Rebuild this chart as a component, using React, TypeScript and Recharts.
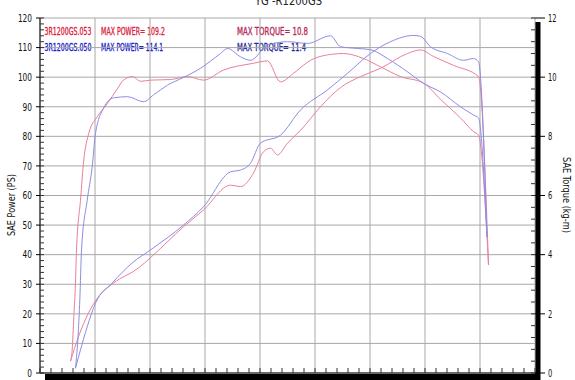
import React from 'react';
import { LineChart, Line, XAxis, YAxis, CartesianGrid } from 'recharts';

const FONT = "'DejaVu Sans Condensed', 'DejaVu Sans', sans-serif";

// axis ticks (major ticks carry labels / grid lines, minor ticks are short marks)
const rpmTicks = [0, 1000, 2000, 3000, 4000, 5000, 6000, 7000, 8000, 9000];
const rpmMinorTicks = Array.from({ length: 46 }, (_, i) => i * 200);
const powerTicks = [0, 10, 20, 30, 40, 50, 60, 70, 80, 90, 100, 110, 120];
const powerMinorTicks = Array.from({ length: 61 }, (_, i) => i * 2);
const torqueTicks = [0, 2, 4, 6, 8, 10, 12];
const torqueMinorTicks = Array.from({ length: 31 }, (_, i) => Math.round(i * 4) / 10);

// run 3R1200GS.053 (red)
const redPowerRpm = [555, 700, 882, 1064, 1336, 1791, 2009, 2609, 2973, 3464, 3645, 3882, 4064, 4191, 4318, 4500, 4736, 5100, 5464, 5827, 6191, 6682, 6918, 7155, 7518, 7973, 8155];
const redPowerPs = [4.0, 12.3, 20.3, 25.8, 30.4, 35.5, 39.0, 49.4, 55.1, 63.5, 63.0, 67.6, 74.8, 76.0, 73.7, 77.7, 82.0, 90.0, 96.5, 100.2, 103.0, 108.0, 109.2, 107.0, 104.0, 100.2, 36.5];
const redTorqueRpm = [555, 585, 615, 645, 664, 736, 796, 887, 1040, 1222, 1404, 1518, 1682, 1827, 2009, 2373, 2682, 2973, 3336, 3882, 4136, 4373, 4609, 4918, 5336, 5518, 5882, 6191, 6555, 6973, 7282, 7645, 7882, 7973, 8155];
const redTorqueKgm = [0.40, 0.78, 1.90, 3.04, 4.16, 5.84, 7.20, 8.10, 8.66, 9.10, 9.60, 9.90, 10.02, 9.86, 9.90, 9.92, 10.02, 9.90, 10.24, 10.47, 10.55, 9.84, 10.13, 10.57, 10.78, 10.80, 10.63, 10.35, 10.02, 9.80, 9.25, 8.62, 8.16, 8.04, 3.65];

// run 3R1200GS.050 (blue)
const bluePowerRpm = [645, 736, 858, 1009, 1313, 1676, 2009, 2609, 2973, 3464, 3645, 3827, 4009, 4373, 4736, 5227, 5591, 6009, 6373, 6791, 6918, 7100, 7409, 7700, 7882, 7973, 8127];
const bluePowerPs = [1.6, 7.8, 15.6, 23.6, 30.4, 37.2, 41.6, 50.0, 56.2, 68.0, 68.6, 70.9, 77.7, 80.4, 88.9, 95.7, 101.3, 108.0, 112.0, 114.1, 113.8, 110.3, 108.0, 105.7, 106.3, 105.2, 46.0];
const blueTorqueRpm = [645, 695, 724, 755, 858, 949, 1009, 1155, 1336, 1591, 1882, 2064, 2318, 2609, 2918, 3282, 3409, 3645, 3827, 4136, 4500, 4864, 5282, 5464, 5773, 6009, 6318, 6682, 6973, 7282, 7645, 7882, 7973, 8127];
const blueTorqueKgm = [0.16, 1.35, 2.47, 4.16, 5.84, 6.97, 8.10, 8.95, 9.30, 9.34, 9.17, 9.40, 9.73, 9.99, 10.30, 10.80, 10.97, 10.69, 10.57, 11.08, 11.20, 11.14, 11.40, 11.03, 10.97, 10.93, 10.63, 10.18, 9.79, 9.50, 9.00, 8.72, 8.62, 4.60];

const zip = (xs: number[], ys: number[]) => xs.map((x, i) => ({ rpm: x, v: ys[i] }));

const redPower = zip(redPowerRpm, redPowerPs);
const redTorque = zip(redTorqueRpm, redTorqueKgm);
const bluePower = zip(bluePowerRpm, bluePowerPs);
const blueTorque = zip(blueTorqueRpm, blueTorqueKgm);

const RED = '#e8809a';
const BLUE = '#8c8ce6';
const SX = 0.7; // horizontal squeeze for the condensed legacy font look

const isMajor = (v: number, list: number[]) => list.some((m) => Math.abs(m - v) < 1e-6);

const Squeezed = (p: { x: number; y: number; len: number; fill: string; children: string; size?: number; anchor?: string; bold?: boolean }) => (
  <g transform={`translate(${p.x},${p.y}) scale(${SX},1)`}>
    <text x={0} y={0} fontSize={p.size || 10} fontFamily={FONT} fill={p.fill}
      stroke={p.bold ? p.fill : undefined} strokeWidth={p.bold ? 0.3 : undefined}
      textAnchor={p.anchor || 'start'} textLength={p.len / SX} lengthAdjust="spacingAndGlyphs">{p.children}</text>
  </g>
);

const LeftTick = (props: any) => {
  const { x, y, payload } = props;
  const v = payload.value as number;
  const major = isMajor(v, powerTicks);
  const s = String(v);
  return (
    <g>
      <line x1={x} x2={x + 4} y1={y} y2={y} stroke="#333" strokeWidth={1} />
      {major && <line x1={x - 4} x2={x} y1={y} y2={y} stroke="#000" strokeWidth={1} />}
      {major && <Squeezed x={x - 8} y={y + 3.8} len={s.length * 4.7} fill="#111" size={10.5} anchor="end">{s}</Squeezed>}
    </g>
  );
};

const RightTick = (props: any) => {
  const { x, y, payload } = props;
  const v = payload.value as number;
  const major = isMajor(v, torqueTicks);
  const s = String(v);
  return (
    <g>
      <line x1={x - 4} x2={x} y1={y} y2={y} stroke="#333" strokeWidth={1} />
      {major && <line x1={x} x2={x + 10} y1={y} y2={y} stroke="#000" strokeWidth={1} />}
      {major && <Squeezed x={x + 13} y={y + 3.8} len={s.length * 4.3} fill="#111" size={10.5}>{s}</Squeezed>}
    </g>
  );
};

const BottomTick = (props: any) => {
  const { x, y } = props;
  return <line x1={x} x2={x} y1={y - 5} y2={y} stroke="#333" strokeWidth={1} />;
};

export default function App() {
  return (
    <div style={{ position: 'absolute', left: 0, top: 0, width: 575, height: 380, background: '#fff', overflow: 'hidden' }}>
      <svg width={575} height={380} style={{ position: 'absolute', left: 0, top: 0 }}>
        <Squeezed x={255} y={5} len={67} fill="#222" size={13}>YG -R1200GS</Squeezed>
        <Squeezed x={44.5} y={35} len={47} fill="#e0203a" bold>3R1200GS.053</Squeezed>
        <Squeezed x={101} y={35} len={64} fill="#e0203a" bold>MAX POWER= 109.2</Squeezed>
        <Squeezed x={237} y={35} len={71} fill="#b82858" bold>MAX TORQUE= 10.8</Squeezed>
        <Squeezed x={44.5} y={50.7} len={47} fill="#2020d0" bold>3R1200GS.050</Squeezed>
        <Squeezed x={101} y={50.7} len={62} fill="#2020d0" bold>MAX POWER= 114.1</Squeezed>
        <Squeezed x={237} y={50.7} len={69} fill="#2a2aa0" bold>MAX TORQUE= 11.4</Squeezed>
        <g transform="translate(15,205) rotate(-90)">
          <Squeezed x={0} y={0} len={62} fill="#111" anchor="middle">SAE Power (PS)</Squeezed>
        </g>
        <g transform="translate(563,195) rotate(90)">
          <Squeezed x={0} y={0} len={76} fill="#111" anchor="middle">SAE Torque (kg-m)</Squeezed>
        </g>
        <rect x={535} y={22} width={5.5} height={358} fill="#000" />
        <rect x={45} y={374} width={495} height={6} fill="#000" />
      </svg>
      <div style={{ position: 'absolute', left: 0, top: 0 }}>
        <LineChart width={575} height={380} margin={{ top: 18, right: 0, bottom: 0, left: 0 }}>
          <CartesianGrid xAxisId="x" yAxisId="ps" stroke="#a8a8a8" strokeWidth={1}
            horizontalValues={powerTicks} verticalValues={rpmTicks} />
          <XAxis xAxisId="x" type="number" dataKey="rpm" domain={[0, 9000]} ticks={rpmMinorTicks} interval={0}
            height={7} tickSize={0} tickMargin={0} tick={<BottomTick />} tickLine={false}
            axisLine={{ stroke: '#000' }} allowDataOverflow />
          <YAxis yAxisId="ps" orientation="left" width={40} type="number" domain={[0, 120]} ticks={powerMinorTicks} interval={0}
            tickSize={0} tickMargin={0} tick={<LeftTick />} tickLine={false} axisLine={{ stroke: '#000' }} allowDataOverflow />
          <YAxis yAxisId="tq" orientation="right" width={40} type="number" domain={[0, 12]} ticks={torqueMinorTicks} interval={0}
            tickSize={0} tickMargin={0} tick={<RightTick />} tickLine={false} axisLine={false} allowDataOverflow />
          <Line xAxisId="x" yAxisId="ps" data={redPower} dataKey="v" type="monotone" stroke={RED} strokeWidth={1} dot={false} isAnimationActive={false} />
          <Line xAxisId="x" yAxisId="tq" data={redTorque} dataKey="v" type="monotone" stroke={RED} strokeWidth={1} dot={false} isAnimationActive={false} />
          <Line xAxisId="x" yAxisId="ps" data={bluePower} dataKey="v" type="monotone" stroke={BLUE} strokeWidth={1} dot={false} isAnimationActive={false} />
          <Line xAxisId="x" yAxisId="tq" data={blueTorque} dataKey="v" type="monotone" stroke={BLUE} strokeWidth={1} dot={false} isAnimationActive={false} />
        </LineChart>
      </div>
    </div>
  );
}
